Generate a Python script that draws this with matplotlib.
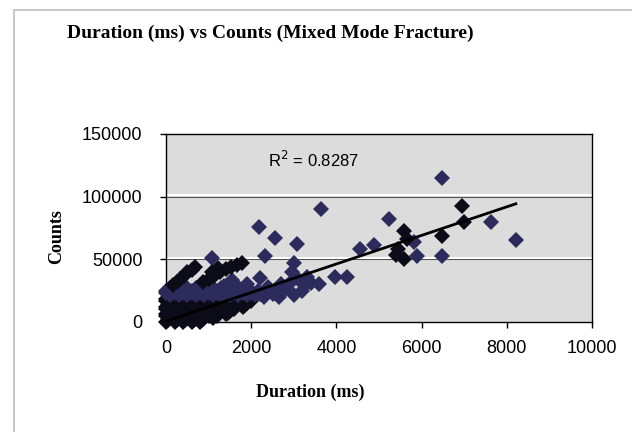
#!/usr/bin/env python3
import matplotlib
matplotlib.use("Agg")
import matplotlib.pyplot as plt
import matplotlib.transforms as mtransforms
from matplotlib.patches import Rectangle

# Short, low-count hits packed near the origin
core_duration = [0, 200, 400, 600, 800,
                 50, 250, 450, 650, 850,
                 100, 300, 500, 700, 900, 1100,
                 0, 200, 400, 600, 800, 1000, 1200,
                 0, 200, 400, 600, 800, 1000, 1200, 1400,
                 50, 250, 450, 650, 850, 1050, 1250, 1450,
                 100, 300, 500, 700, 900, 1100, 1300, 1500,
                 0, 200, 400, 600, 800, 1000, 1200, 1400, 1600,
                 0, 200, 400, 600, 800, 1000, 1200, 1400, 1600, 1800,
                 50, 250, 450, 650, 850, 1050, 1250, 1450, 1650, 1850,
                 100, 300, 500, 700, 900, 1100, 1300, 1500, 1700, 1900,
                 0, 200, 400, 600, 800, 1000, 1200, 1400, 1600, 1800, 2000,
                 0, 200, 400, 600, 800, 1000, 1200, 1400, 1600, 1800, 2000]
core_counts = [0, 0, 0, 0, 0,
               1500, 1500, 1500, 1500, 1500,
               3000, 3000, 3000, 3000, 3000, 3000,
               4500, 4500, 4500, 4500, 4500, 4500, 4500,
               6000, 6000, 6000, 6000, 6000, 6000, 6000, 6000,
               7500, 7500, 7500, 7500, 7500, 7500, 7500, 7500,
               9000, 9000, 9000, 9000, 9000, 9000, 9000, 9000,
               10500, 10500, 10500, 10500, 10500, 10500, 10500, 10500, 10500,
               12000, 12000, 12000, 12000, 12000, 12000, 12000, 12000, 12000, 12000,
               13500, 13500, 13500, 13500, 13500, 13500, 13500, 13500, 13500, 13500,
               15000, 15000, 15000, 15000, 15000, 15000, 15000, 15000, 15000, 15000,
               16500, 16500, 16500, 16500, 16500, 16500, 16500, 16500, 16500, 16500, 16500,
               18000, 18000, 18000, 18000, 18000, 18000, 18000, 18000, 18000, 18000, 18000]

# Mid-count band and scattered hits (navy markers)
navy_duration = [100, 300, 500, 700, 900, 1100, 1300, 1500, 1700, 1900, 2100, 2300,
                 0, 200, 400, 600, 800, 1000, 1200, 1400, 1600, 1800, 2000, 2200,
                 0, 200, 400, 600, 800, 1000, 1200, 1400, 1600, 1800, 2000,
                 100, 300, 500, 700, 900, 1100, 1300, 1500, 1700, 1900,
                 1080, 1550, 1900, 1350, 1700, 2150,
                 2173, 2565, 3075, 2329, 2996, 3640, 5231, 6487, 7624, 8212, 5819,
                 5898, 6487, 4878, 4565, 3976, 4251, 3584, 3271, 2996, 2950, 2210, 2604,
                 2950, 2400, 2500, 2700, 2800, 3100, 3300, 3200, 2650, 3400]
navy_counts = [21500, 21500, 21500, 21500, 21500, 21500, 21500, 21500, 21500, 21500, 21500, 20000,
               23000, 23000, 23000, 23000, 23000, 23000, 23000, 23000, 23000, 23000, 23000, 22000,
               25000, 25000, 25000, 25000, 25000, 25000, 25000, 25000, 25000, 25000, 25000,
               27000, 27000, 27000, 27000, 27000, 27000, 27000, 27000, 27000, 27000,
               50800, 33300, 30000, 29000, 28000, 25000,
               75700, 67200, 62400, 52400, 47100, 90200, 82300, 114500, 79600, 65600, 63700,
               52400, 52400, 61100, 58500, 36000, 36000, 30200, 29400, 21400, 40000, 35000, 24100,
               33000, 28000, 22000, 30000, 26000, 34000, 36000, 25000, 20000, 31000]

# Two steep streaks above the cluster and hits sitting on the trend line (dark markers)
dark_duration = [165, 250, 330, 420, 500, 600, 680,
                 870, 1000, 1130, 1260, 1400, 1530, 1660, 1790, 1082, 1224,
                 6957, 6996, 5584, 5388, 5584, 6487, 5450, 5650]
dark_counts = [29400, 32000, 34500, 37000, 39500, 41500, 43500,
               31700, 34500, 37000, 39500, 42000, 44000, 45500, 46800, 39700, 42800,
               92860, 79600, 73000, 53200, 50500, 68300, 58000, 66000]

# Linear trend line fitted in the spreadsheet
trend_slope = 11.4
trend_intercept = 700
r_squared = 0.8287

x_ticks = [0, 2000, 4000, 6000, 8000, 10000]
y_ticks = [0, 50000, 100000, 150000]

W, H = 632, 432
fig = plt.figure(figsize=(W / 100, H / 100), dpi=100)
fig.patch.set_facecolor("white")

# outer chart frame (bottom and right edges run off the page)
fig.patches.append(Rectangle((14 / W, -0.05), 700 / W, 1.05 - 10 / H, transform=fig.transFigure,
                             fill=False, edgecolor="#c4c4c4", linewidth=1.3))

ax = fig.add_axes([166 / W, 1 - 322 / H, 426 / W, 188 / H])
ax.set_facecolor("#dcdcdc")
ax.set_xlim(0, 10000)
ax.set_ylim(0, 150000)

# gridlines: dark line with a white highlight just above
shift_up = mtransforms.ScaledTranslation(0, 1.5 / 100, fig.dpi_scale_trans)
for yv in y_ticks[1:-1]:
    ax.plot([0, 1], [yv, yv], color="#555555", linewidth=0.8, zorder=1,
            transform=ax.get_yaxis_transform())
    ax.plot([0, 1], [yv, yv], color="white", linewidth=1.4, zorder=1,
            transform=ax.get_yaxis_transform() + shift_up)

marker_style = dict(linestyle="none", marker="D", markersize=8.5, markeredgewidth=0,
                    zorder=3, clip_on=False)
ax.plot(core_duration, core_counts, color="#0c0b18", **marker_style)
ax.plot(navy_duration, navy_counts, color="#2d2b5c", **marker_style)
ax.plot(dark_duration, dark_counts, color="#0c0b18", **marker_style)

all_x = core_duration + navy_duration + dark_duration
x0, x1 = min(all_x), max(all_x)
ax.plot([x0, x1], [trend_slope * x0 + trend_intercept, trend_slope * x1 + trend_intercept],
        color="black", linewidth=2, zorder=4)

ax.set_xticks(x_ticks)
ax.set_yticks(y_ticks)
ax.tick_params(direction="out", length=4, width=1, labelsize=13, color="black")
ax.tick_params(axis="x", pad=9)
ax.tick_params(axis="y", pad=13)
for lab in ax.get_xticklabels() + ax.get_yticklabels():
    lab.set_fontfamily("Liberation Sans")
for s in ax.spines.values():
    s.set_color("black")
    s.set_linewidth(1)

fig.text(270 / W, 1 - 33 / H, "Duration (ms) vs Counts (Mixed Mode Fracture)",
         ha="center", va="center", fontsize=14, fontweight="bold", family="Liberation Serif")
fig.text(310 / W, 1 - 392 / H, "Duration (ms)", ha="center", va="center",
         fontsize=13, fontweight="bold", family="Liberation Serif")
fig.text(57 / W, 1 - 237 / H, "Counts", ha="center", va="center", rotation=90,
         fontsize=13, fontweight="bold", family="Liberation Serif")
fig.text(268 / W, 1 - 160 / H, f"R$^2$ = {r_squared}", ha="left", va="center",
         fontsize=12, family="Liberation Sans")

fig.savefig("out.png", dpi=100)
